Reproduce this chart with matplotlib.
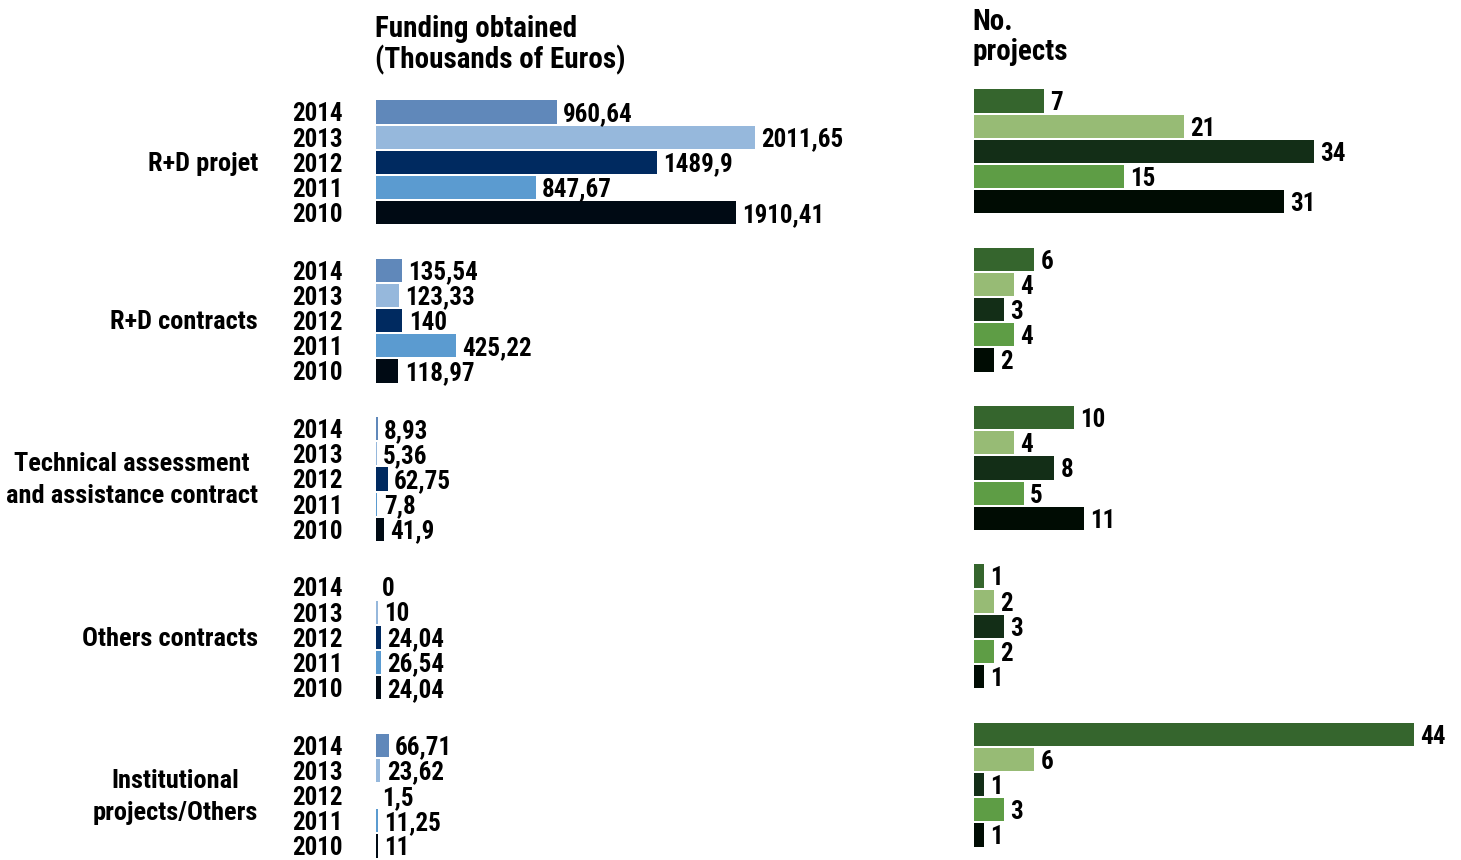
import matplotlib
matplotlib.use("Agg")
import matplotlib.pyplot as plt
from matplotlib import font_manager as fm

# ---------------- data ----------------
categories = ["R+D projet", "R+D contracts",
              "Technical assessment\nand assistance contract",
              "Others contracts", "Institutional\nprojects/Others"]
years = ["2014", "2013", "2012", "2011", "2010"]
funding_rd_projet = [960.64, 2011.65, 1489.9, 847.67, 1910.41]
funding_rd_contracts = [135.54, 123.33, 140, 425.22, 118.97]
funding_technical = [8.93, 5.36, 62.75, 7.8, 41.9]
funding_others = [0, 10, 24.04, 26.54, 24.04]
funding_institutional = [66.71, 23.62, 1.5, 11.25, 11]
projects_rd_projet = [7, 21, 34, 15, 31]
projects_rd_contracts = [6, 4, 3, 4, 2]
projects_technical = [10, 4, 8, 5, 11]
projects_others = [1, 2, 3, 2, 1]
projects_institutional = [44, 6, 1, 3, 1]

funding = [funding_rd_projet, funding_rd_contracts, funding_technical,
           funding_others, funding_institutional]
projects = [projects_rd_projet, projects_rd_contracts, projects_technical,
            projects_others, projects_institutional]

funding_colors = ["#6088ba", "#96b8dc", "#002a60", "#5b9bd0", "#000a14"]
project_colors = ["#35652d", "#97bb75", "#132e17", "#5e9d45", "#000c03"]

# ---------------- font ----------------
cands = ["Roboto Condensed", "Archivo Narrow", "PT Sans Narrow",
         "Liberation Sans Narrow", "IBM Plex Sans Condensed"]
fam = "DejaVu Sans"
for c in cands:
    if any(f.name == c and f.weight in (700, "bold") and "[" not in f.fname
           for f in fm.fontManager.ttflist):
        fam = c
        break
plt.rcParams["font.family"] = [fam, "DejaVu Sans"]
plt.rcParams["font.weight"] = "bold"
FS = 18
FS_CAT = 19
FS_TITLE = 21

FW, FH = 1461, 860
fig = plt.figure(figsize=(FW / 100, FH / 100), dpi=100)

GAP = 6.29          # group spacing in row units
PX_ROW = 25.17      # pixels per row unit


def make_axes(left_px, width_px, first_row_px):
    top_px, bot_px = 85, 860
    ylim_top = -(first_row_px - top_px) / PX_ROW
    ylim_bot = ylim_top + (bot_px - top_px) / PX_ROW
    ax = fig.add_axes([left_px / FW, 1 - bot_px / FH, width_px / FW,
                       (bot_px - top_px) / FH])
    ax.set_ylim(ylim_bot, ylim_top)
    for s in ax.spines.values():
        s.set_visible(False)
    ax.set_xticks([])
    return ax


def fmt(v):
    return f"{v:g}".replace(".", ",")


# ---------------- left: funding ----------------
L_LEFT, L_W = 376, 520
axL = make_axes(L_LEFT, L_W, 112)
axL.set_xlim(0, L_W / 0.1884)
ypos_all, ylab_all = [], []
for g, vals in enumerate(funding):
    ys = [g * GAP + k for k in range(len(vals))]
    axL.barh(ys, vals, height=0.92, color=funding_colors, linewidth=0)
    for y, v in zip(ys, vals):
        axL.annotate(fmt(v), (v, y), xytext=(4.5, -1.5), textcoords="offset points",
                     ha="left", va="center", fontsize=FS, fontweight="bold")
    ypos_all += ys
    ylab_all += years
    axL.text((258 - L_LEFT) / L_W, g * GAP + 2.05, categories[g],
             transform=axL.get_yaxis_transform(), ha="right", va="center",
             multialignment="center", fontsize=FS_CAT, fontweight="bold",
             linespacing=1.42)
axL.set_yticks(ypos_all)
axL.set_yticklabels(ylab_all, fontsize=FS, fontweight="bold")
axL.tick_params(axis="y", length=0, pad=(L_LEFT - 343) * 0.72)

# ---------------- right: projects ----------------
R_LEFT, R_W = 974, FW - 974
axR = make_axes(R_LEFT, R_W, 101)
axR.set_xlim(0, R_W / 10.0)
for g, vals in enumerate(projects):
    ys = [g * GAP + k for k in range(len(vals))]
    axR.barh(ys, vals, height=0.92, color=project_colors, linewidth=0)
    for y, v in zip(ys, vals):
        axR.annotate(fmt(v), (v, y), xytext=(4.5, -1.8), textcoords="offset points",
                     ha="left", va="center", fontsize=FS, fontweight="bold")
axR.set_yticks([])

# ---------------- titles ----------------
fig.text(375 / FW, 1 - 15 / FH, "Funding obtained\n(Thousands of Euros)",
         ha="left", va="top", fontsize=FS_TITLE, fontweight="bold", linespacing=1.1)
fig.text(972 / FW, 1 - 8 / FH, "No.\nprojects",
         ha="left", va="top", fontsize=FS_TITLE, fontweight="bold", linespacing=1.1)

fig.savefig("out.png", dpi=100, facecolor="white")
